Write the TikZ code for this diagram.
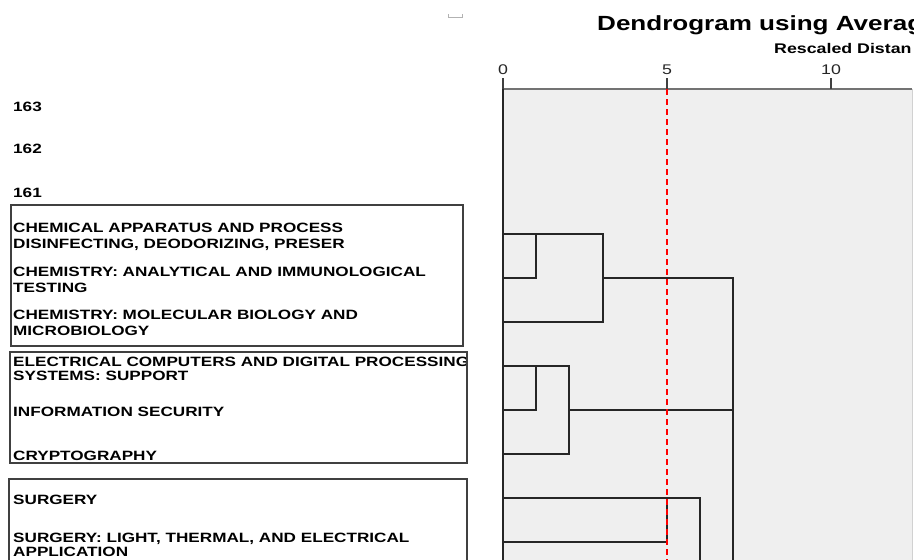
\documentclass[tikz,border=0pt]{standalone}
\usepackage{fontspec}
\setmainfont{Liberation Sans}[FakeStretch=1.27]
\usepackage{xcolor}
\definecolor{plotbg}{HTML}{EFEFEF}
\usetikzlibrary{positioning}

\begin{document}
\begin{tikzpicture}[x=1pt, y=-1pt,
      lbl/.style={anchor=north west, align=left, inner sep=0pt,
                  font=\fontsize{13.5}{15.5}\selectfont\bfseries},
      tight/.style={font=\fontsize{13.5}{13.5}\selectfont\bfseries},
      grp/.style={draw=black!75, line width=1.2pt},
      br/.style={draw=black!85, line width=1.6pt},
      cut/.style={draw=red, line width=1.3pt, dash pattern=on 6pt off 4pt},
      axis/.style={draw=black!55, line width=2.5pt},
      tick/.style={font=\fontsize{14}{16}\selectfont, text=black!85, inner sep=0pt, anchor=base}
    ]
    \useasboundingbox (0,0) rectangle (914,560);
    \clip (0,0) rectangle (914,560);
    % plot area
    \fill[plotbg] (503,89) rectangle (912,560);
    \draw[black!18, line width=1pt] (912,89) -- (912,560);
    \draw[black!30, line width=1pt] (448,14) -- (448,17) -- (462,17) -- (462,14);
    \node[anchor=base west, inner sep=0pt, font=\fontsize{20.5}{24}\selectfont\bfseries] (ttl) at (597,30) {Dendrogram using Averag};
    \node[anchor=base west, inner sep=0pt, font=\fontsize{14}{16}\selectfont\bfseries] (sub) at (774,53) {Rescaled Distan};
    \draw[axis] (503,89) -- (912,89);
    \foreach \d/\x in {0/503,5/667,10/831} {
      \draw[black!75, line width=1.5pt] (\x,78) -- (\x,89);
      \node[tick] (t\d) at (\x,74) {\d};
    }
    % rows and merge distances
    \foreach \i/\y in {3/234,4/278,5/322,6/366,7/410,8/454,9/498,10/542}
      \coordinate (r\i) at (503,\y);
    \coordinate (bot) at (503,560);
    \coordinate (x1) at (536,89);
    \coordinate (x2) at (569,89);
    \coordinate (x3) at (603,89);
    \coordinate (x5) at (667,89);
    \coordinate (x6) at (700,89);
    \coordinate (x7) at (733,89);
    % labels
    \node[lbl] (n163) at (13,102) {163};
    \node[lbl] (n162) at (13,144) {162};
    \node[lbl] (n161) at (13,188) {161};
    \node[lbl] (chapp) at (13,223) {CHEMICAL APPARATUS AND PROCESS\\DISINFECTING, DEODORIZING, PRESER};
    \node[lbl] (chana) at (13,267) {CHEMISTRY: ANALYTICAL AND IMMUNOLOGICAL\\TESTING};
    \node[lbl] (chmol) at (13,310) {CHEMISTRY: MOLECULAR BIOLOGY AND\\MICROBIOLOGY};
    \begin{scope}
      \clip (10,352) rectangle (466,463);
      \node[lbl, tight] (elcomp) at (13,357) {ELECTRICAL COMPUTERS AND DIGITAL PROCESSING\\SYSTEMS: SUPPORT};
    \end{scope}
    \node[lbl] (infsec) at (13,407) {INFORMATION SECURITY};
    \node[lbl] (crypt) at (13,451) {CRYPTOGRAPHY};
    \node[lbl] (surg) at (13,495) {SURGERY};
    \node[lbl, tight] (surgl) at (13,533) {SURGERY: LIGHT, THERMAL, AND ELECTRICAL\\APPLICATION};
    % group boxes
    \draw[grp] (11,205) rectangle (463,346);
    \draw[grp] (10,352) rectangle (467,463);
    \draw[grp] (9,479) rectangle (467,580);
    % branches
    \draw[br] (503,89) -- (bot);
    \draw[br] (r3) -- (x3 |- r3) -- (x3 |- r5) -- (r5);
    \draw[br] (x1 |- r3) -- (x1 |- r4) -- (r4);
    \draw[br] (x3 |- r4) -- (x7 |- r4) -- (x7 |- bot);
    \draw[br] (r6) -- (x2 |- r6) -- (x2 |- r8) -- (r8);
    \draw[br] (x1 |- r6) -- (x1 |- r7) -- (r7);
    \draw[br] (x2 |- r7) -- (x7 |- r7);
    \draw[br] (r9) -- (x6 |- r9) -- (x6 |- bot);
    \draw[br] (x5 |- r9) -- (x5 |- r10) -- (r10);
    \draw[cut] (x5) -- (x5 |- bot);
  \end{tikzpicture}
\end{document}
